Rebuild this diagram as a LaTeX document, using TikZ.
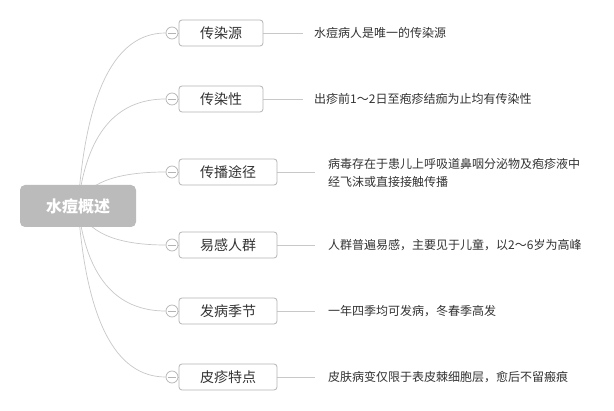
\documentclass[tikz,border=0pt]{standalone}
\usepackage{fontspec}
\setmainfont{Noto Sans CJK SC}
\newfontfamily\cjk{Noto Sans CJK SC}
\usetikzlibrary{backgrounds}
\definecolor{rootgray}{HTML}{BBBBBB}
\definecolor{linegray}{HTML}{C8C8C8}
\definecolor{boxgray}{HTML}{B4B4B4}
\definecolor{txt}{HTML}{333333}
\tikzset{
  rootbox/.style={rectangle, rounded corners=5pt, fill=rootgray, text=white,
    font=\cjk\bfseries\fontsize{16}{18}\selectfont, minimum width=116pt,
    minimum height=42pt, inner sep=0pt},
  topic/.style={rectangle, rounded corners=3pt, draw=boxgray, fill=white, text=txt,
    font=\cjk\fontsize{14}{16}\selectfont, minimum height=26pt, inner sep=0pt,
    line width=0.8pt},
  shorttopic/.style={topic, minimum width=84pt},
  longtopic/.style={topic, minimum width=98pt},
  fold/.style={circle, draw=boxgray, fill=white, minimum size=12pt, inner sep=0pt,
    line width=0.7pt},
  detail/.style={anchor=west, text=txt, font=\cjk\fontsize{12}{18}\selectfont,
    inner sep=0pt, align=left},
  link/.style={draw=linegray, line width=0.7pt},
  minus/.style={draw=boxgray, line width=0.7pt}
}
\begin{document}
\begin{tikzpicture}[x=1pt,y=-1pt]
\useasboundingbox (0,0) rectangle (614,411);
% root
\node[rootbox] (root) at (78,206) {水痘概述};
% fold circles
\node[fold] (f1) at (172,33) {};
\node[fold] (f2) at (172,99) {};
\node[fold] (f3) at (172,172) {};
\node[fold] (f4) at (172,245) {};
\node[fold] (f5) at (172,311) {};
\node[fold] (f6) at (172,377) {};
\foreach \i in {1,...,6}{
  \draw[minus] ([xshift=2.5pt]f\i.west) -- ([xshift=-2.5pt]f\i.east);
}
% topics
\node[shorttopic] (t1) at (221,33) {传染源};
\node[shorttopic] (t2) at (221,99) {传染性};
\node[longtopic] (t3) at (228,172) {传播途径};
\node[longtopic] (t4) at (228,245) {易感人群};
\node[longtopic] (t5) at (228,311) {发病季节};
\node[longtopic] (t6) at (228,377) {皮疹特点};
% details
\node[detail] (d1) at (314,33) {水痘病人是唯一的传染源};
\node[detail] (d2) at (314,99) {出疹前1～2日至疱疹结痂为止均有传染性};
\node[detail] (d3) at (328,173) {病毒存在于患儿上呼吸道鼻咽分泌物及疱疹液中\\经飞沫或直接接触传播};
\node[detail] (d4) at (328,245) {人群普遍易感，主要见于儿童，以2～6岁为高峰};
\node[detail] (d5) at (328,311) {一年四季均可发病，冬春季高发};
\node[detail] (d6) at (328,377) {皮肤病变仅限于表皮棘细胞层，愈后不留瘢痕};
% connectors
\begin{scope}[on background layer]
  \fill[white] (0,0) rectangle (614,411);
  \draw[link] (root.center) .. controls (86,90.7) and (115.3,33) .. (f1.west);
  \draw[link] (root.center) .. controls (86,134.7) and (115.3,99) .. (f2.west);
  \draw[link] (root.center) .. controls (86,183.3) and (115.3,172) .. (f3.west);
  \draw[link] (root.center) .. controls (86,232) and (115.3,245) .. (f4.west);
  \draw[link] (root.center) .. controls (86,276) and (115.3,311) .. (f5.west);
  \draw[link] (root.center) .. controls (86,320) and (115.3,377) .. (f6.west);
  \foreach \i in {1,...,6}{
    \draw[link] (f\i.east) -- (t\i.west);
  }
  \draw[link] (t1.east) -- ([xshift=-11pt]d1.west);
  \draw[link] (t2.east) -- ([xshift=-11pt]d2.west);
  \draw[link] (t3.east) -- ([xshift=-13pt,yshift=1pt]d3.west);
  \draw[link] (t4.east) -- ([xshift=-13pt]d4.west);
  \draw[link] (t5.east) -- ([xshift=-13pt]d5.west);
  \draw[link] (t6.east) -- ([xshift=-13pt]d6.west);
\end{scope}
\end{tikzpicture}
\end{document}
